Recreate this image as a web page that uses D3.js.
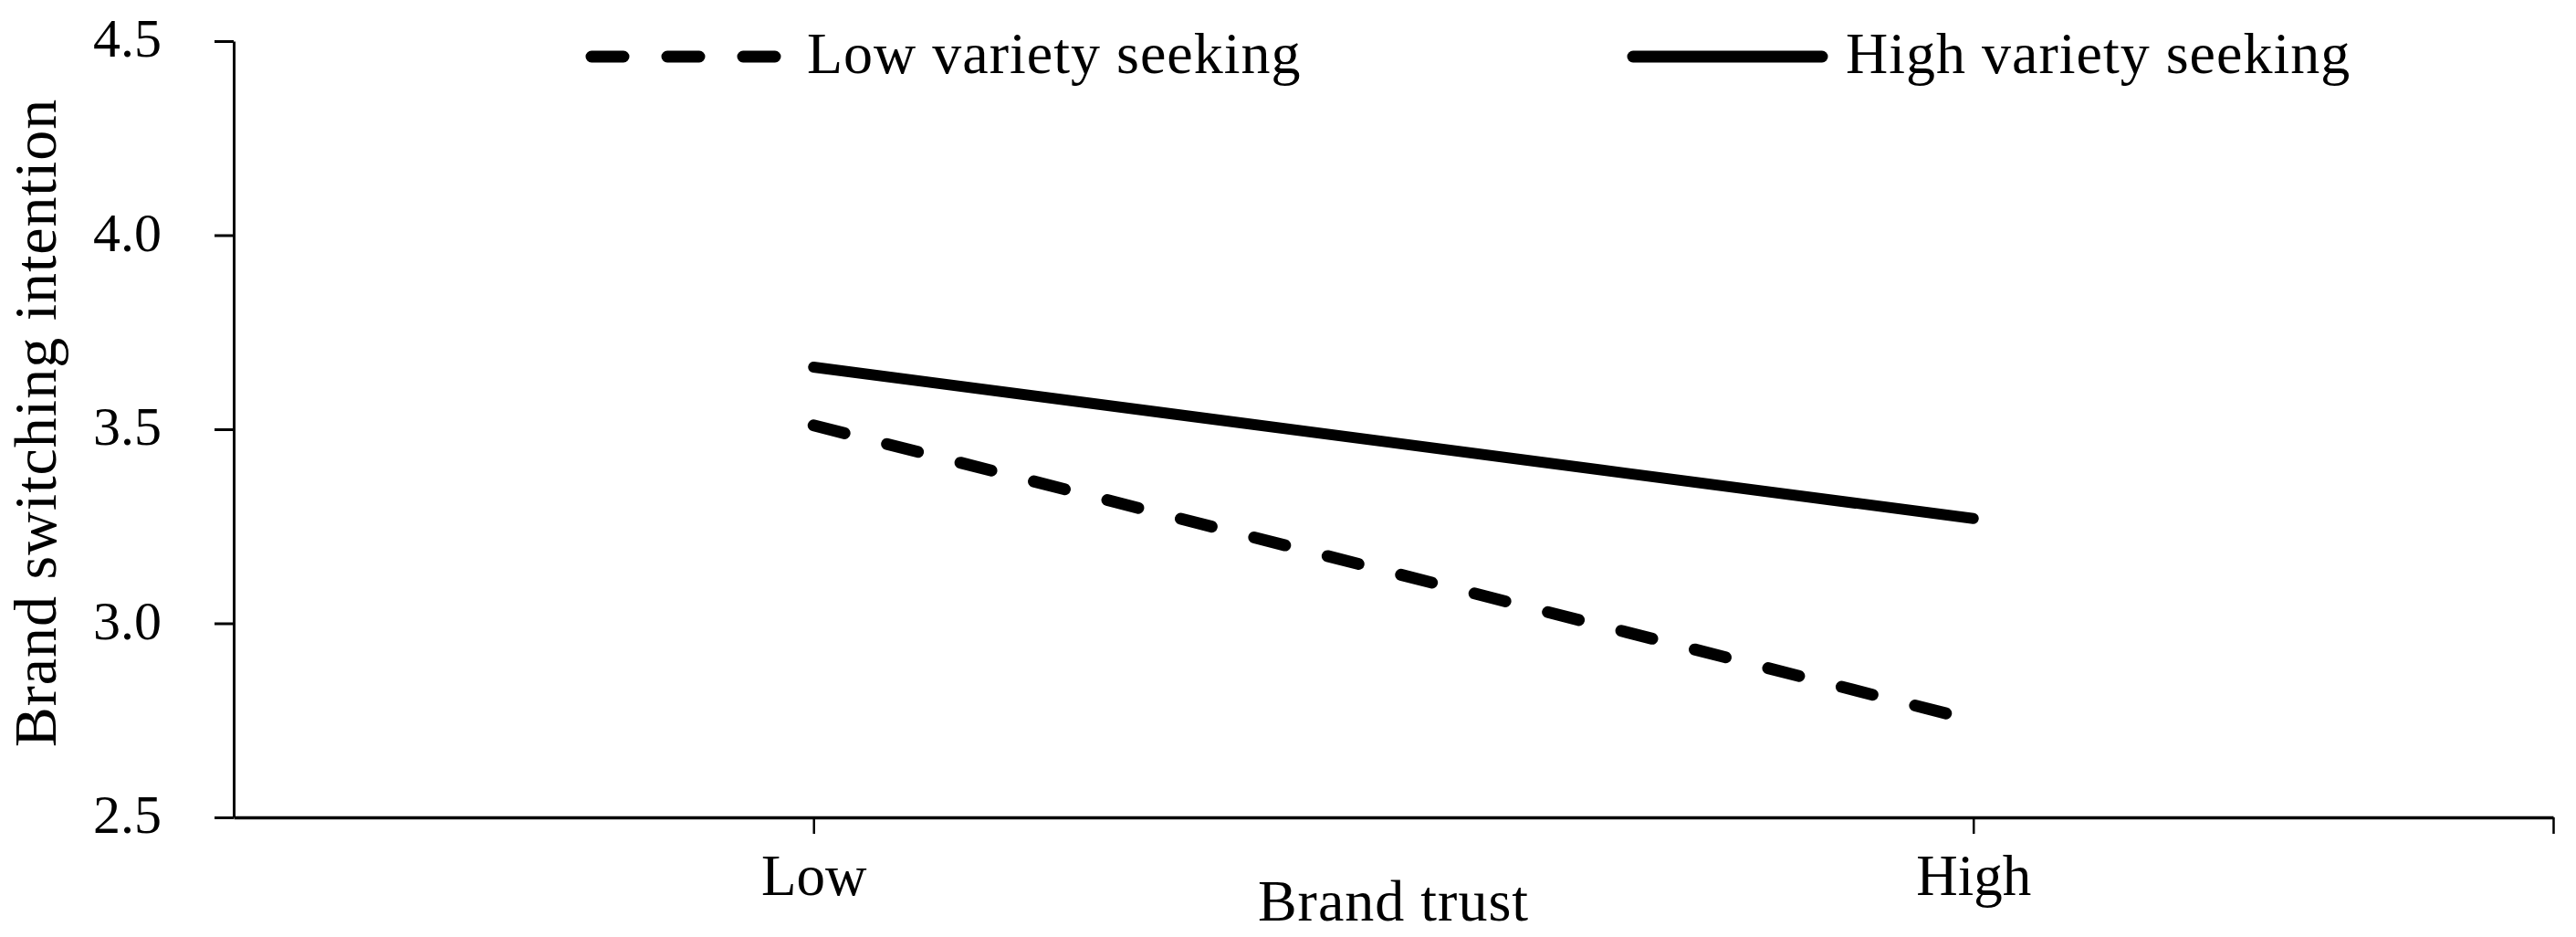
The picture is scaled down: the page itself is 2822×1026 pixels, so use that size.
<!DOCTYPE html>
<html>
<head>
<meta charset="utf-8">
<script src="https://cdn.jsdelivr.net/npm/d3@7"></script>
<style>
  body { margin: 0; background: #fff; }
  text { font-family: "Liberation Serif", "Times New Roman", serif; fill: #000; }
</style>
</head>
<body>
<script>
// data
var trustLevels = ["Low", "High"];
var trustPos = [1, 3];              // category slots on a 0..4 axis
var lowVariety = [3.51, 2.75];
var highVariety = [3.66, 3.27];
var yTicks = [2.5, 3.0, 3.5, 4.0, 4.5];
var seriesNames = ["Low variety seeking", "High variety seeking"];

var W = 2822, H = 1026;
var svg = d3.select('body').append('svg')
  .attr('width', W)
  .attr('height', H);

var x = d3.scaleLinear().domain([0, 4]).range([256, 2797]);
var y = d3.scaleLinear().domain([2.5, 4.5]).range([895, 45]);

// y axis
var yAxis = svg.append("g")
  .attr("transform", "translate(" + x(0) + ",0)")
  .call(d3.axisLeft(y).tickValues(yTicks).tickFormat(d3.format(".1f"))
    .tickSize(21).tickSizeOuter(0).tickPadding(58));
yAxis.select(".domain").attr("stroke-width", 3);
yAxis.selectAll(".tick line").attr("stroke-width", 3);
yAxis.selectAll(".tick text")
  .attr("font-size", 60)
  .attr("font-family", "Liberation Serif")
  .attr("dy", "0.28em");

// x axis
var xAxis = svg.append("g")
  .attr("transform", "translate(0," + y(2.5) + ")")
  .call(d3.axisBottom(x).tickValues([1, 3, 4])
    .tickFormat(function(d) { var i = trustPos.indexOf(d); return i < 0 ? "" : trustLevels[i]; })
    .tickSize(18).tickSizeOuter(0).tickPadding(22));
xAxis.select(".domain").attr("stroke-width", 3.5);
xAxis.selectAll(".tick line").attr("stroke-width", 2.5);
xAxis.selectAll(".tick text")
  .attr("font-size", 63)
  .attr("font-family", "Liberation Serif");

// axis titles
svg.append("text")
  .attr("x", (x(0) + x(4)) / 2)
  .attr("y", 1008)
  .attr("text-anchor", "middle")
  .attr("font-size", 64)
  .attr("letter-spacing", 1)
  .text("Brand trust");

svg.append("text")
  .attr("transform", "translate(61,463) rotate(-90)")
  .attr("text-anchor", "middle")
  .attr("font-size", 66)
  .attr("letter-spacing", 1)
  .text("Brand switching intention");

// lines
var line = d3.line()
  .x(function(d, i) { return x(trustPos[i]); })
  .y(function(d) { return y(d); });

svg.append("path")
  .datum(lowVariety)
  .attr("d", line)
  .attr("fill", "none")
  .attr("stroke", "#000")
  .attr("stroke-width", 13)
  .attr("stroke-linecap", "round")
  .attr("stroke-dasharray", "35,48");

svg.append("path")
  .datum(highVariety)
  .attr("d", line)
  .attr("fill", "none")
  .attr("stroke", "#000")
  .attr("stroke-width", 12)
  .attr("stroke-linecap", "round");

// legend
var legend = [
  { name: seriesNames[0], x1: 648, x2: 850, dash: "35,48", tx: 884 },
  { name: seriesNames[1], x1: 1789, x2: 1996, dash: null, tx: 2022 }
];
legend.forEach(function(d) {
  svg.append("line")
    .attr("x1", d.x1).attr("x2", d.x2)
    .attr("y1", 62).attr("y2", 62)
    .attr("stroke", "#000")
    .attr("stroke-width", 13)
    .attr("stroke-linecap", "round")
    .attr("stroke-dasharray", d.dash);
  svg.append("text")
    .attr("x", d.tx)
    .attr("y", 80)
    .attr("font-size", 64)
    .attr("letter-spacing", 1)
    .text(d.name);
});
</script>
</body>
</html>
